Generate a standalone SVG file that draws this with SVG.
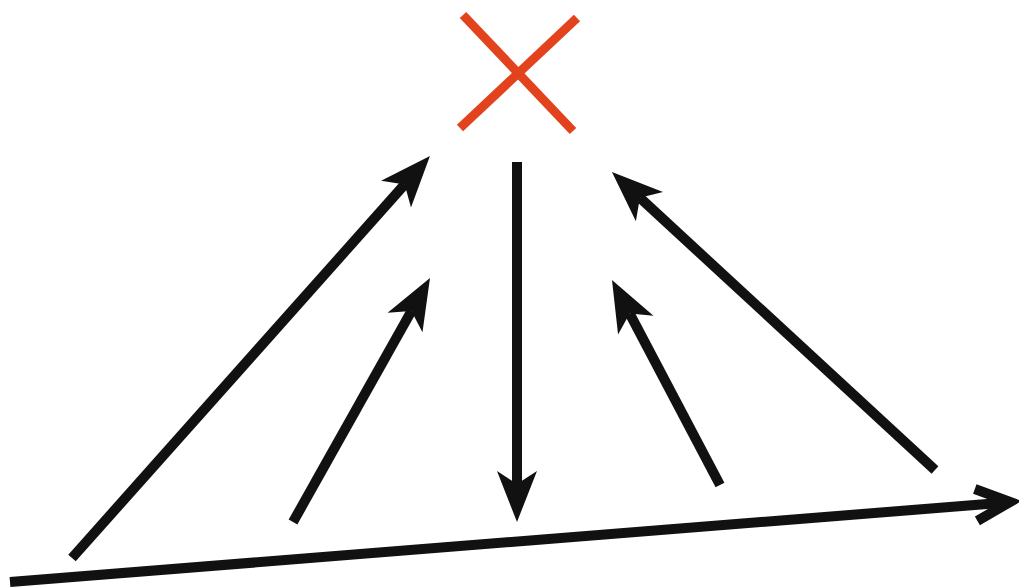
<svg xmlns="http://www.w3.org/2000/svg" width="1019" height="588" viewBox="0 0 1019 588">
<style>
.ln{stroke:#111;stroke-width:10;fill:none;marker-end:url(#head)}
.x{stroke:#e2431d;stroke-width:9;stroke-linecap:butt}
</style>
<defs>
<marker id="head" markerUnits="userSpaceOnUse" markerWidth="60" markerHeight="60" viewBox="-20 -30 60 60" refX="0" refY="0" orient="auto">
<path d="M38,0 L-13,-20 L0,0 L-13,20 Z" fill="#111"/>
</marker>
</defs>
<rect width="1019" height="588" fill="#fff"/>
<g id="cross">
<line class="x" x1="463" y1="15" x2="573" y2="131"/>
<line class="x" x1="577" y1="18" x2="460" y2="128"/>
</g>
<g id="connectors">
<line class="ln" x1="72" y1="558" x2="404.7" y2="184.4"/>
<line class="ln" x1="293" y1="522" x2="411.4" y2="311.1"/>
<line class="ln" x1="517" y1="162" x2="517" y2="484"/>
<line class="ln" x1="720" y1="485" x2="629.7" y2="313.6"/>
<line class="ln" x1="935" y1="470" x2="639.9" y2="197.8"/>
<g id="baseline">
<line x1="10" y1="582" x2="1006" y2="502.5" stroke="#111" stroke-width="10"/>
<polyline points="974.8,489 1010,502 977.4,520.8" fill="none" stroke="#111" stroke-width="10" stroke-linejoin="miter"/>
</g>
</g>
</svg>
